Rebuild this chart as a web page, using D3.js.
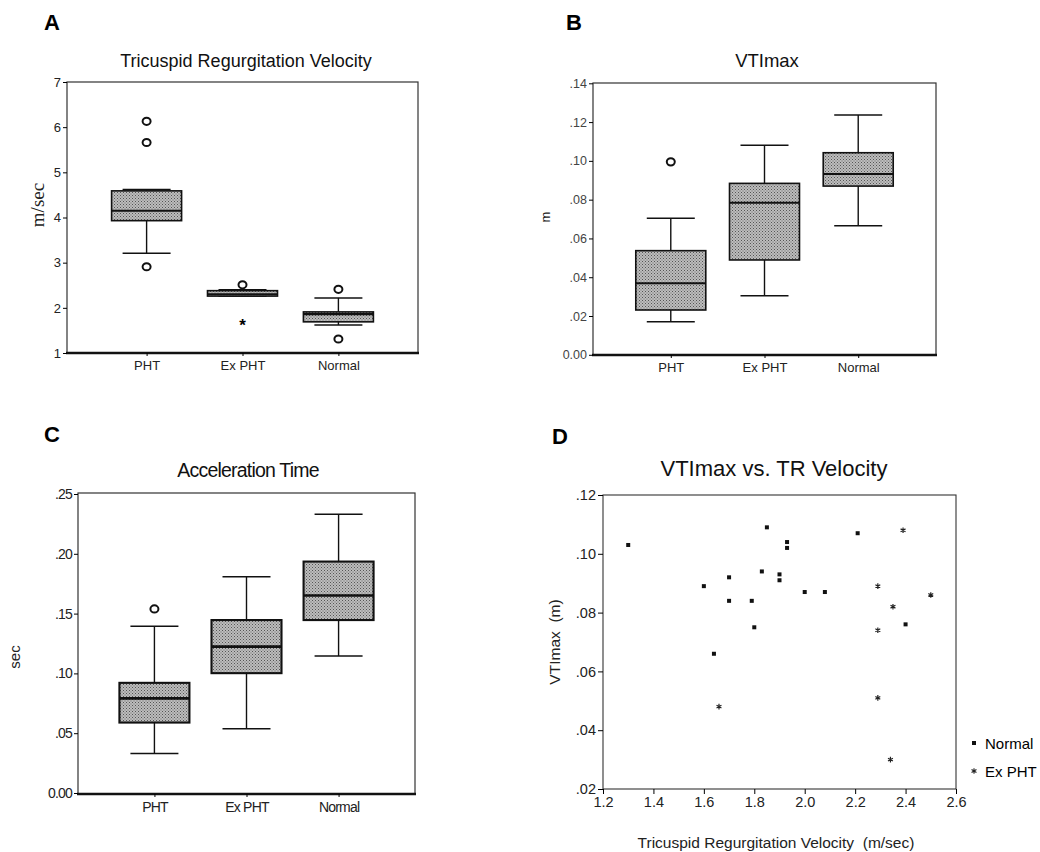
<!DOCTYPE html>
<html>
<head>
<meta charset="utf-8">
<script src="https://cdn.jsdelivr.net/npm/d3@7"></script>
<style>
  body { margin: 0; background: #fff; }
  svg { display: block; font-family: "Liberation Sans", Arial, sans-serif; }
  .tick text { fill: #222; }
</style>
</head>
<body>
<svg id="chart" width="1040" height="852"></svg>
<script>
// groups shared by the three box plots
const groups = ["PHT", "Ex PHT", "Normal"];

// A: tricuspid regurgitation velocity (m/sec)
const trvLow = [3.21, 2.26, 1.62];
const trvQ1 = [3.93, 2.26, 1.69];
const trvMedian = [4.15, 2.30, 1.86];
const trvQ3 = [4.59, 2.38, 1.91];
const trvHigh = [4.62, 2.40, 2.22];
const trvOutliers = [[6.13, 5.66, 2.91], [2.51], [2.41, 1.31]];
const trvExtremes = [[], [1.66], []];
const trvTicks = [1, 2, 3, 4, 5, 6, 7];
const trvTickLabels = ["1", "2", "3", "4", "5", "6", "7"];

// B: VTImax (m)
const vtiLow = [0.0171, 0.0305, 0.0665];
const vtiQ1 = [0.0231, 0.0489, 0.0870];
const vtiMedian = [0.0369, 0.0784, 0.0932];
const vtiQ3 = [0.0537, 0.0884, 0.1042];
const vtiHigh = [0.0704, 0.1080, 0.1236];
const vtiOutliers = [[0.0995], [], []];
const vtiTicks = [0, 0.02, 0.04, 0.06, 0.08, 0.10, 0.12, 0.14];
const vtiTickLabels = ["0.00", ".02", ".04", ".06", ".08", ".10", ".12", ".14"];

// C: acceleration time (sec)
const accLow = [0.033, 0.0538, 0.1145];
const accQ1 = [0.0589, 0.1002, 0.1446];
const accMedian = [0.0791, 0.1224, 0.1651];
const accQ3 = [0.0921, 0.1446, 0.1935];
const accHigh = [0.1395, 0.1809, 0.2331];
const accOutliers = [[0.1539], [], []];
const accTicks = [0, 0.05, 0.10, 0.15, 0.20, 0.25];
const accTickLabels = ["0.00", ".05", ".10", ".15", ".20", ".25"];

// D: VTImax vs TR velocity scatter
const normalTR = [1.30, 1.60, 1.70, 1.70, 1.64, 1.79, 1.80, 1.83, 1.85, 1.90, 1.90, 1.93, 1.93, 2.00, 2.08, 2.21, 2.40];
const normalVTI = [0.103, 0.089, 0.092, 0.084, 0.066, 0.084, 0.075, 0.094, 0.109, 0.093, 0.091, 0.104, 0.102, 0.087, 0.087, 0.107, 0.076];
const exphtTR = [2.39, 2.29, 2.50, 2.35, 2.29, 1.66, 2.29, 2.34];
const exphtVTI = [0.108, 0.089, 0.086, 0.082, 0.074, 0.048, 0.051, 0.030];
const scatterXTicks = [1.2, 1.4, 1.6, 1.8, 2.0, 2.2, 2.4, 2.6];
const scatterXLabels = ["1.2", "1.4", "1.6", "1.8", "2.0", "2.2", "2.4", "2.6"];
const scatterYTicks = [0.02, 0.04, 0.06, 0.08, 0.10, 0.12];
const scatterYLabels = [".02", ".04", ".06", ".08", ".10", ".12"];

const svg = d3.select("#chart");

// dithered grey fill like the scanned figure
const defs = svg.append("defs");
const pat = defs.append("pattern")
    .attr("id", "dither")
    .attr("width", 3).attr("height", 3)
    .attr("patternUnits", "userSpaceOnUse");
pat.append("rect").attr("width", 3).attr("height", 3).attr("fill", "#bdbdbd");
pat.append("rect").attr("width", 1).attr("height", 1).attr("fill", "#555");
pat.append("rect").attr("x", 1.5).attr("y", 1.5).attr("width", 1).attr("height", 1).attr("fill", "#666");

function panelLetter(txt, x, y) {
    svg.append("text")
        .attr("x", x).attr("y", y)
        .style("font-size", "22px")
        .style("font-weight", "bold")
        .text(txt);
}

function boxPanel(opt) {
    const { left, right, top, bottom } = opt;
    const g = svg.append("g");
    const sw = opt.boxStroke || 1.6;

    const x = d3.scalePoint().domain(groups).range([left, right]).padding(0.83);
    const y = d3.scaleLinear().domain(opt.domain).range([opt.y0, opt.y1]);

    // frame
    g.append("rect")
        .attr("x", left).attr("y", top)
        .attr("width", right - left).attr("height", bottom - top)
        .attr("fill", "none").attr("stroke", "#333").attr("stroke-width", 1.2);
    g.append("line")
        .attr("x1", left - 1).attr("x2", right + 1)
        .attr("y1", bottom).attr("y2", bottom)
        .attr("stroke", "#111").attr("stroke-width", 2.5);

    // y axis
    const ya = g.append("g")
        .attr("transform", `translate(${left},0)`)
        .call(d3.axisLeft(y).tickValues(opt.ticks)
            .tickFormat((d, i) => opt.tickLabels[i]).tickSize(4).tickPadding(2));
    ya.select(".domain").remove();
    ya.selectAll("text").style("font-size", opt.tickFont || "12.5px")
        .style("letter-spacing", opt.spacing || "0px")
        .style("fill", opt.tickColor || "#222");

    // x axis labels
    const xa = g.append("g")
        .attr("transform", `translate(0,${bottom})`)
        .call(d3.axisBottom(x).tickSize(3).tickPadding(5));
    xa.select(".domain").remove();
    xa.selectAll("text").style("font-size", opt.catFont || "13px")
        .style("letter-spacing", opt.spacing || "0px");

    const bw = 70, cw = 48;
    groups.forEach((grp, i) => {
        const cx = x(grp);
        // whiskers
        g.append("line").attr("x1", cx).attr("x2", cx)
            .attr("y1", y(opt.high[i])).attr("y2", y(opt.q3[i]))
            .attr("stroke", "#111").attr("stroke-width", 1.4);
        g.append("line").attr("x1", cx).attr("x2", cx)
            .attr("y1", y(opt.q1[i])).attr("y2", y(opt.low[i]))
            .attr("stroke", "#111").attr("stroke-width", 1.4);
        [opt.high[i], opt.low[i]].forEach(v => {
            g.append("line").attr("x1", cx - cw / 2).attr("x2", cx + cw / 2)
                .attr("y1", y(v)).attr("y2", y(v))
                .attr("stroke", "#111").attr("stroke-width", 1.5);
        });
        // box
        g.append("rect")
            .attr("x", cx - bw / 2).attr("width", bw)
            .attr("y", y(opt.q3[i]))
            .attr("height", Math.max(2, y(opt.q1[i]) - y(opt.q3[i])))
            .attr("fill", "url(#dither)")
            .attr("stroke", "#111").attr("stroke-width", sw);
        g.append("line")
            .attr("x1", cx - bw / 2).attr("x2", cx + bw / 2)
            .attr("y1", y(opt.median[i])).attr("y2", y(opt.median[i]))
            .attr("stroke", "#111").attr("stroke-width", sw + 0.5);
        // outliers
        (opt.outliers[i] || []).forEach(v => {
            g.append("ellipse")
                .attr("cx", cx).attr("cy", y(v))
                .attr("rx", 4).attr("ry", 3.6)
                .attr("fill", "#fff").attr("stroke", "#111").attr("stroke-width", 2);
        });
        ((opt.extremes || [])[i] || []).forEach(v => {
            g.append("text")
                .attr("x", cx).attr("y", y(v) + 8)
                .attr("text-anchor", "middle")
                .style("font-size", "17px").style("font-weight", "bold")
                .text("*");
        });
    });

    // title
    g.append("text")
        .attr("x", opt.titleX).attr("y", opt.titleY)
        .attr("text-anchor", "middle")
        .style("font-size", opt.titleFont)
        .style("letter-spacing", opt.spacing || "0px")
        .style("fill", "#111")
        .text(opt.title);

    // y label
    g.append("text")
        .attr("transform", `translate(${opt.labelX},${opt.labelY}) rotate(-90)`)
        .attr("text-anchor", "middle")
        .style("font-size", opt.labelFont || "13px")
        .style("font-family", opt.labelFamily || null)
        .style("fill", "#222")
        .text(opt.yLabel);
}

panelLetter("A", 44, 30);
boxPanel({
    left: 67, right: 418, top: 82, bottom: 353,
    domain: [1, 7], y0: 353, y1: 82,
    ticks: trvTicks, tickLabels: trvTickLabels, tickFont: "13px",
    low: trvLow, q1: trvQ1, median: trvMedian, q3: trvQ3, high: trvHigh,
    outliers: trvOutliers, extremes: trvExtremes,
    title: "Tricuspid Regurgitation Velocity", titleX: 246, titleY: 67, titleFont: "18px",
    yLabel: "m/sec", labelX: 44, labelY: 205, labelFont: "19px",
    labelFamily: "'Liberation Serif', 'Times New Roman', serif"
});

panelLetter("B", 566, 30);
boxPanel({
    left: 593, right: 936, top: 83, bottom: 355,
    domain: [0, 0.14], y0: 354.8, y1: 83.3,
    ticks: vtiTicks, tickLabels: vtiTickLabels, tickFont: "12.5px", tickColor: "#444",
    low: vtiLow, q1: vtiQ1, median: vtiMedian, q3: vtiQ3, high: vtiHigh,
    outliers: vtiOutliers,
    title: "VTImax", titleX: 767, titleY: 67, titleFont: "18.5px",
    yLabel: "m", labelX: 550, labelY: 217, labelFont: "13px"
});

panelLetter("C", 44, 442);
boxPanel({
    left: 78, right: 415, top: 493, bottom: 794,
    domain: [0, 0.25], y0: 793, y1: 494,
    ticks: accTicks, tickLabels: accTickLabels, tickFont: "14px", spacing: "-0.8px",
    catFont: "14px", boxStroke: 2.1,
    low: accLow, q1: accQ1, median: accMedian, q3: accQ3, high: accHigh,
    outliers: accOutliers,
    title: "Acceleration Time", titleX: 248, titleY: 477, titleFont: "19.5px",
    yLabel: "sec", labelX: 20, labelY: 657, labelFont: "15px"
});

// D: scatter
panelLetter("D", 552, 444);
(function () {
    const left = 603, right = 956, top = 495, bottom = 789;
    const g = svg.append("g");
    const x = d3.scaleLinear().domain([1.2, 2.6]).range([left, right]);
    const y = d3.scaleLinear().domain([0.02, 0.12]).range([bottom, top]);

    g.append("rect")
        .attr("x", left).attr("y", top)
        .attr("width", right - left).attr("height", bottom - top)
        .attr("fill", "none").attr("stroke", "#333").attr("stroke-width", 1.1);

    const xa = g.append("g").attr("transform", `translate(0,${bottom})`)
        .call(d3.axisBottom(x).tickValues(scatterXTicks)
            .tickFormat((d, i) => scatterXLabels[i]).tickSize(5).tickPadding(3));
    xa.select(".domain").remove();
    xa.selectAll("text").style("font-size", "14.5px");

    const ya = g.append("g").attr("transform", `translate(${left},0)`)
        .call(d3.axisLeft(y).tickValues(scatterYTicks)
            .tickFormat((d, i) => scatterYLabels[i]).tickSize(5).tickPadding(2));
    ya.select(".domain").remove();
    ya.selectAll("text").style("font-size", "14.5px");

    g.selectAll(".nrm")
        .data(normalTR)
        .enter()
        .append("rect")
        .attr("class", "nrm")
        .attr("x", (d, i) => x(d) - 2)
        .attr("y", (d, i) => y(normalVTI[i]) - 2)
        .attr("width", 4).attr("height", 4)
        .attr("fill", "#111");

    const star = d3.symbol(d3.symbolAsterisk || d3.symbolCross, 22);
    g.selectAll(".exp")
        .data(exphtTR)
        .enter()
        .append("path")
        .attr("class", "exp")
        .attr("transform", (d, i) => `translate(${x(d)},${y(exphtVTI[i])})`)
        .attr("d", star)
        .attr("fill", "none")
        .attr("stroke", "#222").attr("stroke-width", 1.2);

    // legend
    g.append("rect").attr("x", 972).attr("y", 741).attr("width", 4).attr("height", 4).attr("fill", "#111");
    g.append("text").attr("x", 985).attr("y", 749).style("font-size", "15px").text("Normal");
    g.append("path").attr("transform", "translate(974,771)").attr("d", star)
        .attr("fill", "none").attr("stroke", "#222").attr("stroke-width", 1.1);
    g.append("text").attr("x", 985).attr("y", 777).style("font-size", "15px").text("Ex PHT");

    g.append("text")
        .attr("x", 774).attr("y", 476)
        .attr("text-anchor", "middle")
        .style("font-size", "22px").style("fill", "#111")
        .text("VTImax vs. TR Velocity");

    g.append("text")
        .attr("transform", "translate(560,642) rotate(-90)")
        .attr("text-anchor", "middle")
        .style("font-size", "15.5px").style("fill", "#222")
        .style("white-space", "pre")
        .text("VTImax  (m)");

    g.append("text")
        .attr("x", 776).attr("y", 848)
        .attr("text-anchor", "middle")
        .style("font-size", "15.5px").style("fill", "#222")
        .style("white-space", "pre")
        .text("Tricuspid Regurgitation Velocity  (m/sec)");
})();
</script>
</body>
</html>
